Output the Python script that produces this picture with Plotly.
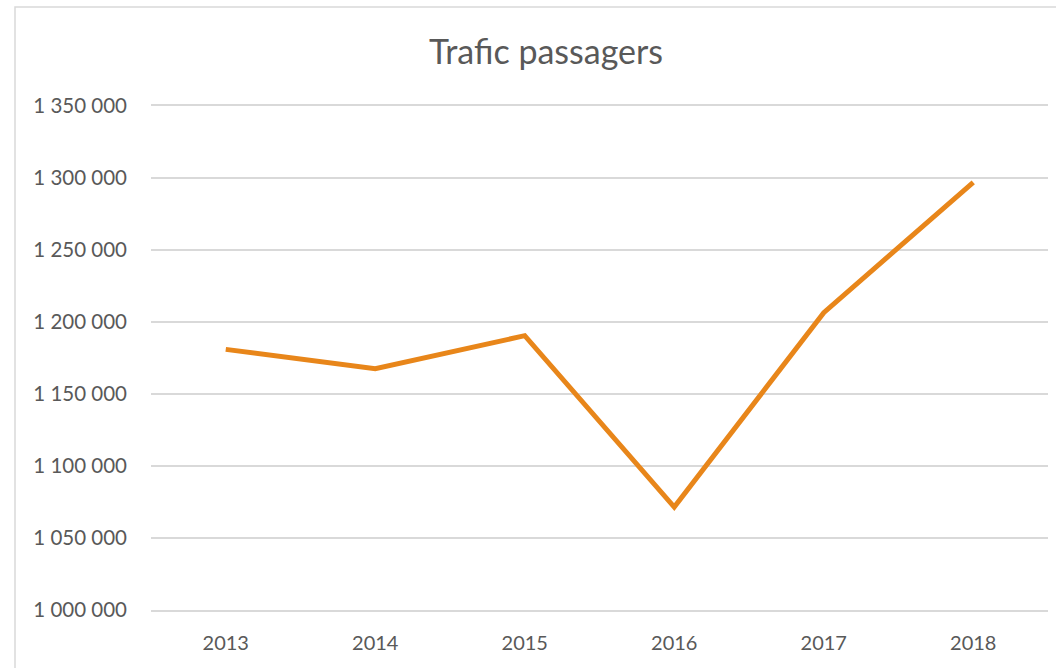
import plotly.graph_objects as go

years = ["2013", "2014", "2015", "2016", "2017", "2018"]
passagers = [1181000, 1167500, 1190500, 1071500, 1206500, 1297000]
y_ticks = [1000000, 1050000, 1100000, 1150000, 1200000, 1250000, 1300000, 1350000]

W, H = 1056, 668
L, R, T, B = 151, 8, 106, 58
pw, ph = W - L - R, H - T - B

def px_x(p):
    return (p - L) / pw

def px_y(p):
    return (H - B - p) / ph

fig = go.Figure()
fig.add_trace(go.Scatter(
    x=years, y=passagers, mode="lines",
    line=dict(color="#E8861A", width=5),
    hoverinfo="skip", showlegend=False,
))

font_color = "#595959"
fig.update_layout(
    width=W, height=H,
    margin=dict(l=L, r=R, t=T, b=B),
    paper_bgcolor="white", plot_bgcolor="white",
    separators=", ",
    font=dict(family="Lato, Open Sans, sans-serif", color=font_color, size=20),
    title=dict(text="Trafic passagers", xref="container", x=546 / W, xanchor="center",
               yref="container", y=1 - 52 / H, yanchor="middle",
               font=dict(size=34, color=font_color)),
    xaxis=dict(type="category", range=[-0.5, 5.5], showgrid=False,
               showline=True, mirror=True, linecolor="#d9d9d9", linewidth=1.5,
               ticks="", ticklabelstandoff=14, fixedrange=True),
    yaxis=dict(range=[1000000, 1350000], tickvals=y_ticks, tickformat=",d",
               showgrid=True, gridcolor="#d9d9d9", gridwidth=1.5,
               zeroline=False, showline=False, ticks="", ticklabelstandoff=23,
               tickfont=dict(size=20.5),
               fixedrange=True),
    shapes=[dict(type="rect", xref="paper", yref="paper",
                 x0=px_x(15), x1=px_x(1070), y0=px_y(690), y1=px_y(7),
                 line=dict(color="#d9d9d9", width=1.5), layer="below")],
)

fig.write_html("out.html",
               config={"displayModeBar": False},
               post_script="document.body.style.margin='0';document.body.style.overflow='hidden';")
